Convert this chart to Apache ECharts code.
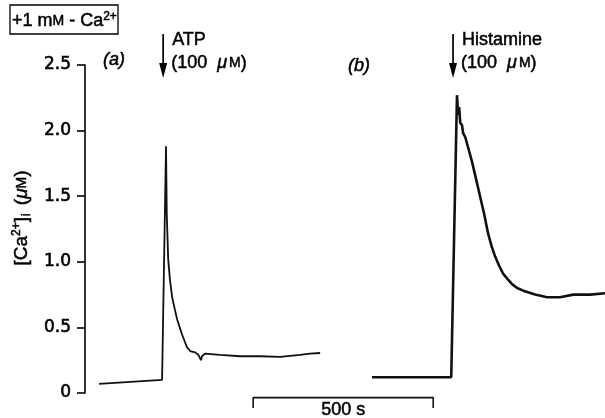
<!DOCTYPE html>
<html>
<head>
<meta charset="utf-8">
<script src="https://cdn.jsdelivr.net/npm/echarts@6/dist/echarts.min.js"></script>
<style>
  html, body { margin: 0; padding: 0; background: #fff; }
  #main { width: 605px; height: 418px; }
</style>
</head>
<body>
<div id="main"></div>
<script>
// trace (a): ATP, time in s, [Ca2+]i in uM
const timeA = [39, 214, 225, 227, 231, 236, 242, 250, 256, 263, 269, 276, 283, 292, 306, 315, 322, 325, 333, 375, 431, 486, 542, 597, 625, 653];
const caA = [0.07, 0.10, 1.88, 1.37, 1.02, 0.86, 0.73, 0.63, 0.56, 0.50, 0.45, 0.40, 0.35, 0.32, 0.31, 0.29, 0.25, 0.28, 0.30, 0.29, 0.28, 0.28, 0.275, 0.29, 0.30, 0.305];
// trace (b): histamine
const timeB = [797, 1017, 1033, 1036, 1039, 1042, 1047, 1050, 1056, 1061, 1068, 1075, 1086, 1097, 1108, 1119, 1129, 1139, 1150, 1161, 1173, 1186, 1200, 1217, 1250, 1283, 1319, 1356, 1403, 1444];
const caB = [0.12, 0.12, 2.27, 2.12, 2.18, 2.06, 2.04, 1.98, 1.95, 1.90, 1.83, 1.76, 1.63, 1.50, 1.37, 1.22, 1.12, 1.04, 0.97, 0.91, 0.87, 0.83, 0.80, 0.78, 0.75, 0.73, 0.73, 0.75, 0.75, 0.76];
const yTicks = [0, 0.5, 1.0, 1.5, 2.0, 2.5];
const events = [
  { t: 217, name: 'ATP', panel: '(a)', panelT: 50 },
  { t: 1022, name: 'Histamine', panel: '(b)', panelT: 730 }
];
const scaleStart = 467;
const scaleLen = 500;

const FONT = 'Liberation Sans';
// echarts-side rich (axis name)
const base = { fontFamily: FONT, color: '#000', textBorderColor: '#000', textBorderWidth: 0.5 };
const rich = {
  N: Object.assign({ fontSize: 19 }, base),
  SC: Object.assign({ fontSize: 14 }, base),
  MU: Object.assign({ fontSize: 19, fontStyle: 'italic' }, base),
  S: Object.assign({ fontSize: 12, padding: [0, 0, 10, 0] }, base),
  I: Object.assign({ fontSize: 12, padding: [9, 3, 0, 1] }, base)
};
// zrender-side rich (graphic texts); thin outline gives the printed medium weight
const gBase = { fontFamily: FONT, fill: '#000', stroke: '#000', lineWidth: 0.5 };
const richG = {
  n: Object.assign({ fontSize: 18 }, gBase),
  sc: Object.assign({ fontSize: 14 }, gBase),
  mu: Object.assign({ fontSize: 18, fontStyle: 'italic', padding: [0, 2, 0, 0] }, gBase),
  s: Object.assign({ fontSize: 12, padding: [0, 0, 9, 0] }, gBase)
};

const chart = echarts.init(document.getElementById('main'));
chart.setOption({
  animation: false,
  grid: { left: 85, top: 65, width: 520, height: 328 },
  xAxis: { type: 'value', min: 0, max: 1444, show: false },
  yAxis: {
    type: 'value', min: 0, max: 2.5, interval: 0.5,
    axisLine: { show: true, lineStyle: { color: '#000', width: 1.6 } },
    axisTick: { show: true, length: 8, lineStyle: { color: '#000', width: 1.6 } },
    splitLine: { show: false },
    axisLabel: {
      margin: 14, fontFamily: 'DejaVu Sans', fontSize: 17, color: '#000',
      textBorderColor: '#000', textBorderWidth: 0.6,
      formatter: v => yTicks.includes(v) ? (v === 0 ? '0' : v.toFixed(1)) : ''
    },
    name: '{N|[Ca}{S|2+}{N|]}{I|i}{N| (}{MU|μ}{SC|M}{N|)}',
    nameLocation: 'middle', nameRotate: 90, nameGap: 47,
    nameTextStyle: { fontFamily: FONT, fontSize: 19, color: '#000', rich: rich, padding: [0, 0, 0, 22] }
  },
  series: [
    {
      type: 'line', showSymbol: false, symbol: 'none',
      data: timeA.map((t, i) => [t, caA[i]]),
      lineStyle: { color: '#111', width: 1.8 }
    },
    {
      type: 'line', showSymbol: false, symbol: 'none',
      data: timeB.map((t, i) => [t, caB[i]]),
      lineStyle: { color: '#111', width: 2.6 }
    },
    {
      type: 'line', showSymbol: false, symbol: 'none', clip: false,
      data: [[scaleStart, -0.115], [scaleStart, -0.035], [scaleStart + scaleLen, -0.035], [scaleStart + scaleLen, -0.115]],
      lineStyle: { color: '#111', width: 1.6 }
    }
  ]
});

const px = (t, v) => chart.convertToPixel({ gridIndex: 0 }, [t, v]);
const txt = (x, y, text, font, align) => ({
  type: 'text', x: x, y: y,
  style: { text: text, font: font, fill: '#000', stroke: '#000', lineWidth: 0.5, align: align || 'left', verticalAlign: 'middle' }
});
const rtxt = (x, y, text) => ({ type: 'text', x: x, y: y, style: { text: text, rich: richG, verticalAlign: 'middle' } });
const graphics = [
  { type: 'rect', shape: { x: 10, y: 5, width: 108, height: 29 }, style: { fill: 'none', stroke: '#000', lineWidth: 1.3 } },
  rtxt(12, 21, '{n|+1 m}{sc|M}{n| - Ca}{s|2+}')
];
events.forEach(e => {
  const x = px(e.t, 0)[0];
  graphics.push(
    { type: 'line', shape: { x1: x, y1: 34, x2: x, y2: 68 }, style: { stroke: '#000', lineWidth: 1.7 } },
    { type: 'polygon', shape: { points: [[x - 4, 63], [x + 4, 63], [x, 78]] }, style: { fill: '#000' } },
    txt(x + 9, 40, e.name, '18px "' + FONT + '"'),
    rtxt(x + 8, 63, '{n|(100  }{mu|μ}{sc|M}{n|)}'),
    txt(px(e.panelT, 0)[0], e.name === 'ATP' ? 60 : 66, e.panel, 'italic 18px "' + FONT + '"')
  );
});
const mid = px(scaleStart + scaleLen / 2, -0.13);
graphics.push(txt(mid[0], 410, scaleLen + ' s', '18px "' + FONT + '"', 'center'));
chart.setOption({ graphic: graphics });
</script>
</body>
</html>
